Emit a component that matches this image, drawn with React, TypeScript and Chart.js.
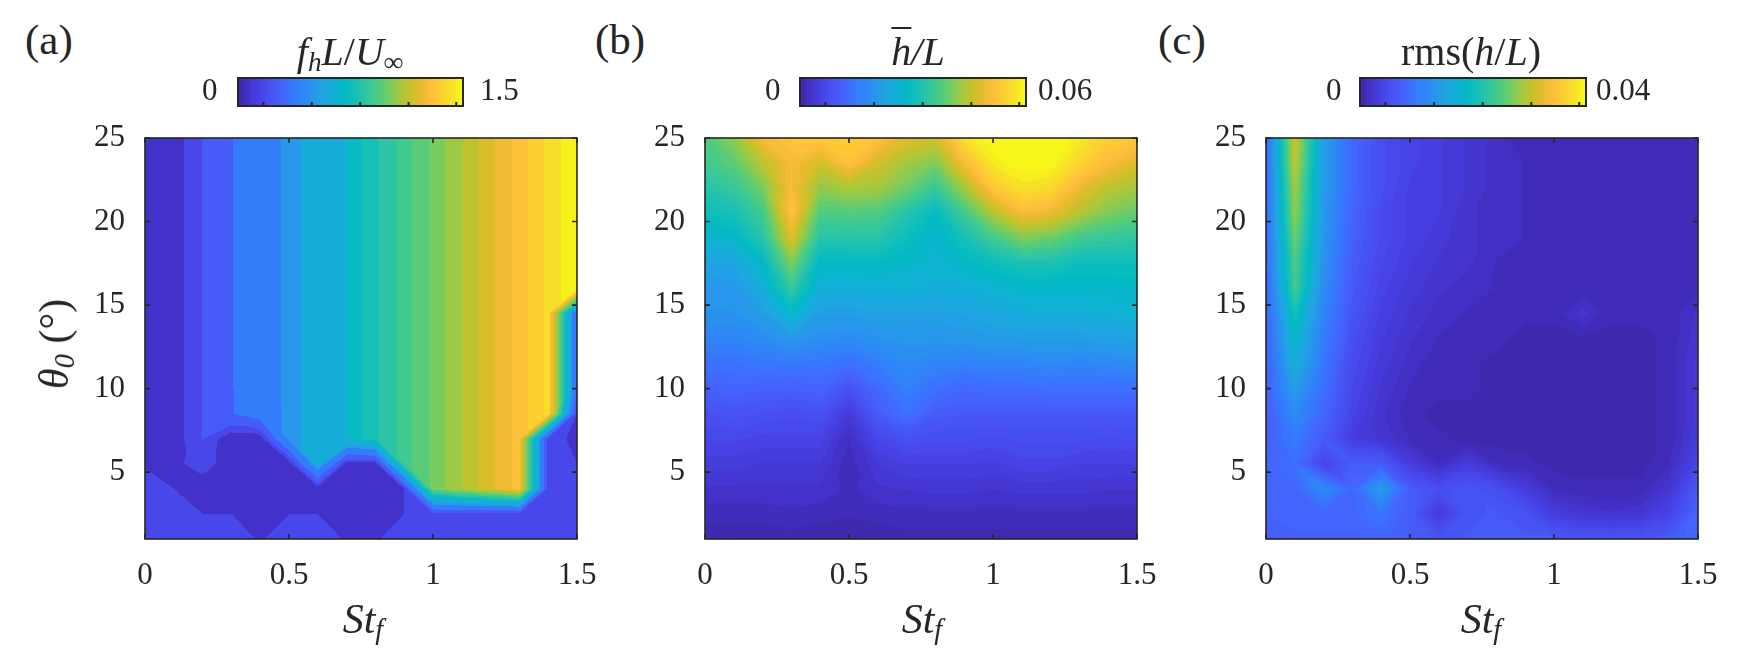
import { useEffect, useRef } from 'react';
import { Chart, registerables } from 'chart.js';

Chart.register(...registerables);

const stValues = [0, 0.1, 0.2, 0.3, 0.4, 0.5, 0.6, 0.7, 0.8, 0.9, 1, 1.1, 1.2, 1.3, 1.4, 1.5];
const thetaValues = [1, 2.5, 4, 5.5, 7, 8.5, 10, 11.5, 13, 14.5, 16, 17.5, 19, 20.5, 22, 23.5, 25];
const stTicks = [0, 0.5, 1, 1.5];
const thetaTicks = [5, 10, 15, 20, 25];
const barTicks = [0.113, 0.328, 0.543, 0.758, 0.97];

// fhL/Uinf, real units, 0 to 1.5. one row per theta, low to high
const freqRows = [
  [.16, .16, .16, .16, .13, .16, .16, .13, .13, .16, .16, .16, .16, .16, .16, .16],
  [.16, .16, .135, .135, .08, .135, .135, .08, .08, .135, .16, .16, .16, .16, .16, .16],
  [.16, .135, .08, .08, .08, .08, .09, .08, .08, .135, 1, 1.1, 1.2, 1.3, .16, .16],
  [.13, .11, .18, .08, .08, .09, .6, .1, .1, .9, 1, 1.1, 1.2, 1.3, .16, .135],
  [.05, .1, .2, .08, .09, .5, .6, .7, .8, .9, 1, 1.1, 1.2, 1.3, .16, .12],
  [.05, .1, .2, .3, .38, .5, .6, .7, .8, .9, 1, 1.1, 1.2, 1.3, 1.4, .135],
  [.05, .1, .2, .3, .4, .5, .6, .7, .8, .9, 1, 1.1, 1.2, 1.3, 1.4, .3],
  [.05, .1, .2, .3, .4, .5, .6, .7, .8, .9, 1, 1.1, 1.2, 1.3, 1.4, .3],
  [.05, .1, .2, .3, .4, .5, .6, .7, .8, .9, 1, 1.1, 1.2, 1.3, 1.4, .3],
  [.05, .1, .2, .3, .4, .5, .6, .7, .8, .9, 1, 1.1, 1.2, 1.3, 1.4, .3],
  [.05, .1, .2, .3, .4, .5, .6, .7, .8, .9, 1, 1.1, 1.2, 1.3, 1.4, 1.5],
  [.05, .1, .2, .3, .4, .5, .6, .7, .8, .9, 1, 1.1, 1.2, 1.3, 1.4, 1.5],
  [.05, .1, .2, .3, .4, .5, .6, .7, .8, .9, 1, 1.1, 1.2, 1.3, 1.4, 1.5],
  [.05, .1, .2, .3, .4, .5, .6, .7, .8, .9, 1, 1.1, 1.2, 1.3, 1.4, 1.5],
  [.05, .1, .2, .3, .4, .5, .6, .7, .8, .9, 1, 1.1, 1.2, 1.3, 1.4, 1.5],
  [.05, .1, .2, .3, .4, .5, .6, .7, .8, .9, 1, 1.1, 1.2, 1.3, 1.4, 1.5],
  [.05, .1, .2, .3, .4, .5, .6, .7, .8, .9, 1, 1.1, 1.2, 1.3, 1.4, 1.5],
];
const freqLevels = [-1, .135, .197, .307, .472, .54, .7, .754, .814, .874, .928, .988, 1.04, 1.1, 1.155, 1.217, 1.275, 1.33, 1.387, 1.443, 1.6];

// mean h/L, as a fraction of the colourbar (0 to 0.06)
const meanRows = [
  [.005, .005, .005, .01, .005, .005, .005, .01, .01, .01, .01, .01, .01, .01, .01, .01],
  [.025, .025, .025, .03, .025, .02, .025, .03, .03, .03, .03, .03, .03, .03, .03, .03],
  [.05, .05, .05, .05, .05, .03, .05, .055, .06, .06, .055, .06, .06, .06, .055, .055],
  [.08, .08, .07, .07, .07, .025, .07, .09, .09, .09, .085, .1, .1, .09, .09, .09],
  [.11, .11, .1, .1, .1, .035, .11, .14, .13, .13, .12, .13, .13, .13, .12, .13],
  [.14, .15, .14, .13, .14, .07, .17, .22, .17, .16, .16, .16, .16, .16, .16, .16],
  [.18, .19, .18, .18, .19, .14, .2, .27, .22, .2, .21, .21, .22, .22, .22, .22],
  [.23, .23, .24, .25, .24, .22, .26, .3, .28, .27, .28, .28, .29, .28, .29, .3],
  [.28, .28, .3, .34, .31, .3, .32, .33, .33, .34, .35, .36, .36, .36, .37, .38],
  [.32, .32, .36, .47, .36, .36, .37, .37, .37, .38, .4, .41, .42, .42, .43, .44],
  [.33, .34, .42, .58, .42, .42, .43, .43, .42, .42, .44, .46, .46, .46, .46, .47],
  [.38, .38, .47, .68, .47, .47, .48, .46, .44, .47, .5, .53, .53, .5, .5, .5],
  [.44, .46, .55, .8, .55, .55, .55, .5, .45, .52, .6, .68, .66, .6, .58, .57],
  [.5, .52, .6, .87, .62, .63, .62, .55, .48, .6, .74, .84, .82, .74, .68, .65],
  [.55, .58, .67, .84, .7, .73, .72, .66, .58, .72, .88, .95, .93, .82, .75, .72],
  [.6, .64, .75, .84, .78, .87, .78, .72, .68, .84, .97, 1, 1, .92, .85, .8],
  [.62, .7, .84, .88, .89, .9, .87, .8, .78, .95, 1, 1, 1, .97, .9, .88],
];

// rms(h/L), as a fraction of the colourbar (0 to 0.04)
const rmsRows = [
  [.18, .18, .18, .18, .2, .17, .15, .16, .17, .16, .16, .15, .15, .15, .17, .2],
  [.19, .2, .2, .2, .24, .17, .07, .15, .16, .14, .08, .06, .05, .06, .1, .2],
  [.2, .2, .3, .2, .36, .17, .13, .15, .13, .08, .03, .02, .02, .02, .06, .16],
  [.2, .22, .1, .17, .17, .08, .03, .08, .03, .02, .01, .01, .01, .01, .03, .11],
  [.18, .25, .17, .08, .06, .03, .02, .01, .01, .01, .01, .01, .01, .01, .02, .08],
  [.18, .3, .2, .1, .05, .02, .01, .01, .01, .01, .01, .01, .01, .01, .02, .07],
  [.18, .36, .22, .11, .06, .03, .02, .02, .01, .01, .01, .01, .01, .01, .02, .07],
  [.18, .42, .24, .12, .07, .04, .02, .02, .01, .01, .01, .01, .01, .01, .02, .07],
  [.19, .46, .26, .13, .08, .05, .03, .02, .02, .01, .01, .015, .01, .01, .02, .06],
  [.19, .52, .28, .15, .09, .06, .04, .03, .02, .02, .02, .055, .02, .02, .02, .05],
  [.19, .6, .3, .16, .1, .07, .05, .04, .03, .02, .02, .02, .02, .02, .02, .03],
  [.2, .62, .32, .17, .11, .08, .06, .05, .03, .03, .02, .02, .02, .02, .02, .02],
  [.2, .66, .33, .18, .12, .09, .07, .05, .04, .03, .02, .02, .02, .02, .02, .02],
  [.2, .7, .34, .19, .12, .09, .08, .05, .04, .03, .02, .02, .02, .02, .02, .02],
  [.2, .72, .35, .2, .13, .09, .08, .06, .04, .03, .02, .02, .02, .02, .02, .02],
  [.2, .76, .35, .2, .13, .1, .08, .06, .04, .03, .02, .02, .02, .02, .02, .02],
  [.2, .78, .36, .2, .13, .1, .08, .06, .04, .02, .02, .02, .02, .02, .02, .02],
];

const parula = [
  [.2422, .1504, .6603], [.2647, .1978, .7952], [.2783, .2559, .8991], [.2810, .3228, .9579],
  [.2699, .3892, .9906], [.2206, .4603, .9973], [.1786, .5289, .9682], [.1540, .5902, .9218],
  [.1248, .6459, .8883], [.0689, .6948, .8394], [.0067, .7312, .7660], [.0964, .7500, .7120],
  [.1938, .7758, .6251], [.2906, .7973, .5188], [.4456, .8024, .3909], [.6174, .7876, .2612],
  [.7738, .7598, .1646], [.9035, .7330, .1774], [.9956, .7434, .2371], [.9892, .8136, .1885],
  [.9610, .8890, .1537], [.9769, .9839, .0805],
];

const parulaAt = (t) => {
  const p = Math.max(0, Math.min(1, t)) * (parula.length - 1);
  const i = Math.min(parula.length - 2, Math.floor(p));
  const f = p - i;
  return parula[i].map((c, k) => Math.round((c + (parula[i + 1][k] - c) * f) * 255));
};

// colour of the contour band a value falls in
const bandT = (v, max, levels, count) => {
  if (levels) {
    let k = 0;
    while (k < levels.length - 2 && v >= levels[k + 1]) k++;
    const lo = Math.max(levels[k], 0);
    const hi = Math.min(levels[k + 1], max);
    return (lo + hi) / 2 / max;
  }
  const n = Math.min(count - 1, Math.max(0, Math.floor((v / max) * count)));
  return (n + 0.5) / count;
};

const findCell = (list, v) => {
  let i = 0;
  while (i < list.length - 2 && v > list[i + 1]) i++;
  return [i, Math.max(0, Math.min(1, (v - list[i]) / (list[i + 1] - list[i])))];
};

// linear inside triangles, so the contours come out as straight segments
const cellValue = (v00, v10, v01, v11, fx, fy) => {
  if (Math.abs(v00 - v11) <= Math.abs(v10 - v01)) {
    if (fx >= fy) return v00 + (v10 - v00) * fx + (v11 - v10) * fy;
    return v00 + (v01 - v00) * fy + (v11 - v01) * fx;
  }
  if (fx + fy <= 1) return v00 + (v10 - v00) * fx + (v01 - v00) * fy;
  return v11 + (v01 - v11) * (1 - fx) + (v10 - v11) * (1 - fy);
};

const INK = '#262626';
const SERIF = '"Liberation Serif", serif';

const contourPlugin = {
  id: 'contour',
  beforeDatasetsDraw(chart, _args, opts) {
    const { ctx, chartArea: a, scales } = chart;
    const pts = chart.data.datasets[0].data;
    const w = Math.round(a.right - a.left);
    const h = Math.round(a.bottom - a.top);
    const img = ctx.createImageData(w, h);
    const n = stValues.length;
    for (let py = 0; py < h; py++) {
      const [j, fy] = findCell(thetaValues, scales.y.getValueForPixel(a.top + py + 0.5));
      for (let px = 0; px < w; px++) {
        const [i, fx] = findCell(stValues, scales.x.getValueForPixel(a.left + px + 0.5));
        const v = cellValue(
          pts[j * n + i].v,
          pts[j * n + i + 1].v,
          pts[(j + 1) * n + i].v,
          pts[(j + 1) * n + i + 1].v,
          fx,
          fy,
        );
        const c = parulaAt(bandT(v, opts.max, opts.levels, opts.count));
        const o = (py * w + px) * 4;
        img.data[o] = c[0];
        img.data[o + 1] = c[1];
        img.data[o + 2] = c[2];
        img.data[o + 3] = 255;
      }
    }
    ctx.putImageData(img, Math.round(a.left), Math.round(a.top));
  },
  afterDraw(chart) {
    const { ctx, chartArea: a, scales } = chart;
    ctx.save();
    ctx.strokeStyle = INK;
    ctx.lineWidth = 1.6;
    ctx.strokeRect(a.left, a.top, a.right - a.left, a.bottom - a.top);
    ctx.beginPath();
    scales.x.ticks.forEach((t) => {
      const x = scales.x.getPixelForValue(t.value);
      ctx.moveTo(x, a.top);
      ctx.lineTo(x, a.top + 5);
      ctx.moveTo(x, a.bottom);
      ctx.lineTo(x, a.bottom - 5);
    });
    scales.y.ticks.forEach((t) => {
      const y = scales.y.getPixelForValue(t.value);
      ctx.moveTo(a.left, y);
      ctx.lineTo(a.left + 5, y);
      ctx.moveTo(a.right, y);
      ctx.lineTo(a.right - 5, y);
    });
    ctx.stroke();
    ctx.restore();
  },
};

const barPlugin = {
  id: 'colorbar',
  beforeDatasetsDraw(chart) {
    const { ctx, chartArea: a, scales } = chart;
    for (let px = Math.floor(a.left); px < a.right; px++) {
      const c = parulaAt(bandT(scales.x.getValueForPixel(px + 0.5), 1, null, 64));
      ctx.fillStyle = `rgb(${c[0]},${c[1]},${c[2]})`;
      ctx.fillRect(px, a.top, 1, a.bottom - a.top);
    }
  },
  afterDraw(chart) {
    const { ctx, chartArea: a, scales } = chart;
    ctx.save();
    ctx.strokeStyle = INK;
    ctx.lineWidth = 2;
    ctx.strokeRect(a.left, a.top, a.right - a.left, a.bottom - a.top);
    ctx.beginPath();
    barTicks.forEach((t) => {
      const x = scales.x.getPixelForValue(t);
      ctx.moveTo(x, a.bottom);
      ctx.lineTo(x, a.bottom - 4);
    });
    ctx.stroke();
    ctx.restore();
  },
};

const tickFont = { family: SERIF, size: 31 };

const HeatPanel = ({ rows, max, levels, count, plotLeft }) => {
  const ref = useRef(null);

  useEffect(() => {
    const points = [];
    thetaValues.forEach((y, j) => {
      stValues.forEach((x, i) => points.push({ x, y, v: rows[j][i] }));
    });
    const chart = new Chart(ref.current.getContext('2d'), {
      type: 'scatter',
      data: { datasets: [{ data: points, pointRadius: 0, showLine: false }] },
      plugins: [contourPlugin],
      options: {
        animation: false,
        responsive: false,
        devicePixelRatio: 1,
        layout: { padding: { top: 40, right: 40, left: 0, bottom: 0 } },
        plugins: {
          legend: { display: false },
          tooltip: { enabled: false },
          contour: { max, levels, count },
        },
        scales: {
          x: {
            type: 'linear',
            min: 0,
            max: 1.5,
            afterBuildTicks: (s) => { s.ticks = stTicks.map((value) => ({ value })); },
            afterFit: (s) => { s.height = 60; },
            grid: { display: false },
            border: { display: false },
            ticks: {
              autoSkip: false,
              maxRotation: 0,
              padding: 10,
              color: INK,
              font: tickFont,
              callback: (v) => String(v),
            },
          },
          y: {
            type: 'linear',
            min: 1,
            max: 25,
            afterBuildTicks: (s) => { s.ticks = thetaTicks.map((value) => ({ value })); },
            afterFit: (s) => { s.width = 80; },
            grid: { display: false },
            border: { display: false },
            ticks: {
              autoSkip: false,
              padding: 12,
              color: INK,
              font: tickFont,
              callback: (v) => String(v),
            },
          },
        },
      },
    });
    return () => chart.destroy();
  }, []);

  return (
    <canvas
      ref={ref}
      width={552}
      height={501}
      style={{ position: 'absolute', left: plotLeft - 80, top: 98 }}
    />
  );
};

const ColorBar = ({ left, width }) => {
  const ref = useRef(null);

  useEffect(() => {
    const chart = new Chart(ref.current.getContext('2d'), {
      type: 'scatter',
      data: { datasets: [{ data: [], pointRadius: 0 }] },
      plugins: [barPlugin],
      options: {
        animation: false,
        responsive: false,
        devicePixelRatio: 1,
        layout: { padding: 2 },
        plugins: { legend: { display: false }, tooltip: { enabled: false } },
        scales: {
          x: { type: 'linear', min: 0, max: 1, display: false },
          y: { type: 'linear', min: 0, max: 1, display: false },
        },
      },
    });
    return () => chart.destroy();
  }, []);

  return (
    <canvas
      ref={ref}
      width={width + 4}
      height={32}
      style={{ position: 'absolute', left: left - 2, top: 76 }}
    />
  );
};

const Txt = ({ x, y, size, center, children }) => (
  <div
    style={{
      position: 'absolute',
      left: x,
      top: y,
      fontSize: size,
      lineHeight: 1,
      color: INK,
      whiteSpace: 'nowrap',
      fontFamily: SERIF,
      transform: center ? 'translateX(-50%)' : undefined,
    }}
  >
    {children}
  </div>
);

const Sub = ({ children }) => (
  <sub style={{ fontSize: '0.68em', lineHeight: 0, verticalAlign: '-0.22em' }}>{children}</sub>
);

const StLabel = ({ x }) => (
  <Txt x={x} y={598} size={42} center>
    <i>St<Sub>f</Sub></i>
  </Txt>
);

export default function App() {
  return (
    <div style={{ position: 'fixed', left: 0, top: 0, width: 1753, height: 670, background: '#fff', overflow: 'hidden' }}>
      <HeatPanel rows={freqRows} max={1.5} levels={freqLevels} count={0} plotLeft={145} />
      <HeatPanel rows={meanRows} max={1} levels={null} count={56} plotLeft={705} />
      <HeatPanel rows={rmsRows} max={1} levels={null} count={64} plotLeft={1266} />
      <ColorBar left={238} width={225} />
      <ColorBar left={800} width={226} />
      <ColorBar left={1360} width={226} />

      <Txt x={25} y={18} size={43}>(a)</Txt>
      <Txt x={595} y={18} size={43}>(b)</Txt>
      <Txt x={1158} y={18} size={43}>(c)</Txt>

      <Txt x={350} y={32} size={40} center><i>f<Sub>h</Sub>L</i>/<i>U<Sub>∞</Sub></i></Txt>
      <Txt x={918} y={32} size={40} center>
        <i><span style={{ textDecoration: 'overline', textDecorationThickness: 1.5 }}>h</span>/L</i>
      </Txt>
      <Txt x={1471} y={32} size={40} center>rms(<i>h</i>/<i>L</i>)</Txt>

      <Txt x={202} y={74} size={31}>0</Txt>
      <Txt x={480} y={74} size={31}>1.5</Txt>
      <Txt x={765} y={74} size={31}>0</Txt>
      <Txt x={1038} y={74} size={31}>0.06</Txt>
      <Txt x={1326} y={74} size={31}>0</Txt>
      <Txt x={1596} y={74} size={31}>0.04</Txt>

      <StLabel x={363} />
      <StLabel x={922} />
      <StLabel x={1481} />

      <div
        style={{
          position: 'absolute',
          left: 54,
          top: 344,
          fontSize: 42,
          lineHeight: 1,
          color: INK,
          fontFamily: SERIF,
          whiteSpace: 'nowrap',
          transform: 'translate(-50%, -50%) rotate(-90deg)',
        }}
      >
        <i>θ<Sub>0</Sub></i> (°)
      </div>
    </div>
  );
}
